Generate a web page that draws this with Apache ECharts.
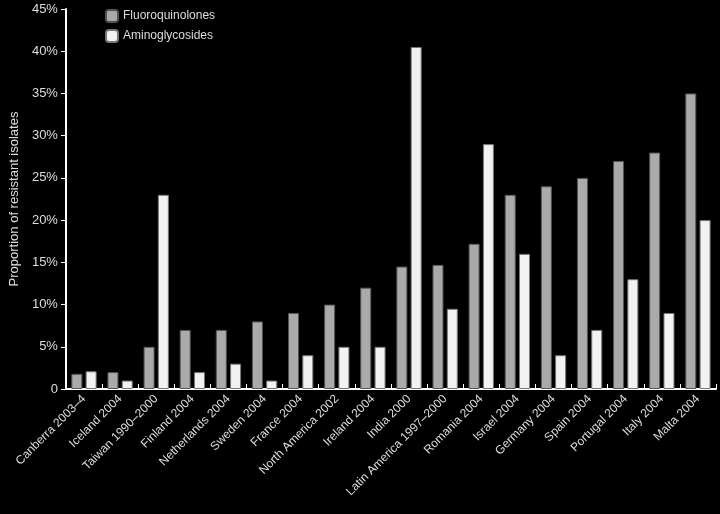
<!DOCTYPE html>
<html>
<head>
<meta charset="UTF-8">
<script src="https://cdn.jsdelivr.net/npm/echarts@6/dist/echarts.min.js"></script>
<style>body{margin:0;background:#000}</style>
</head>
<body>
<div id="main" style="width:720px;height:514px"></div>
<script>
var categories = ['Canberra 2003–4','Iceland 2004','Taiwan 1990–2000','Finland 2004','Netherlands 2004','Sweden 2004','France 2004','North America 2002','Ireland 2004','India 2000','Latin America 1997–2000','Romania 2004','Israel 2004','Germany 2004','Spain 2004','Portugal 2004','Italy 2004','Malta 2004'];
var fluoro = [1.8,2,5,7,7,8,9,10,12,14.5,14.7,17.2,23,24,25,27,28,35];
var amino = [2.1,1,23,2,3,1,4,5,5,40.5,9.5,29,16,4,7,13,9,20];

var chart = echarts.init(document.getElementById('main'));
var txt = {color:'#ddd', fontFamily:'Liberation Sans', fontSize:12};
chart.setOption({
  backgroundColor:'#000',
  animation:false,
  grid:{left:58, right:4, top:9, bottom:125},
  legend:{
    left:100, top:4, orient:'vertical', itemGap:6, itemWidth:12, itemHeight:12,
    textStyle:txt,
    data:['Fluoroquinolones','Aminoglycosides']
  },
  xAxis:{
    type:'category', data:categories,
    axisLine:{lineStyle:{color:'#fff', width:2}},
    axisTick:{show:true, alignWithLabel:false, length:-5, lineStyle:{color:'#fff'}},
    axisLabel:Object.assign({rotate:45, interval:0, margin:8}, txt)
  },
  yAxis:{
    type:'value', min:0, max:45, interval:5,
    name:'Proportion of resistant isolates', nameLocation:'middle', nameGap:44,
    nameTextStyle:Object.assign({}, txt, {fontSize:13}),
    axisLine:{show:true, lineStyle:{color:'#fff', width:2}},
    axisTick:{show:true, lineStyle:{color:'#fff'}},
    splitLine:{show:false},
    axisLabel:Object.assign({formatter:function(v){return v===0?'0':v+'%';}}, txt, {fontSize:13})
  },
  series:[
    {name:'Fluoroquinolones', type:'bar', data:fluoro, barWidth:11, barGap:'30%',
     itemStyle:{color:'#aaa', borderColor:'#555', borderWidth:1}},
    {name:'Aminoglycosides', type:'bar', data:amino, barWidth:11,
     itemStyle:{color:'#f2f2f2', borderColor:'#777', borderWidth:1}}
  ]
});
</script>
</body>
</html>
